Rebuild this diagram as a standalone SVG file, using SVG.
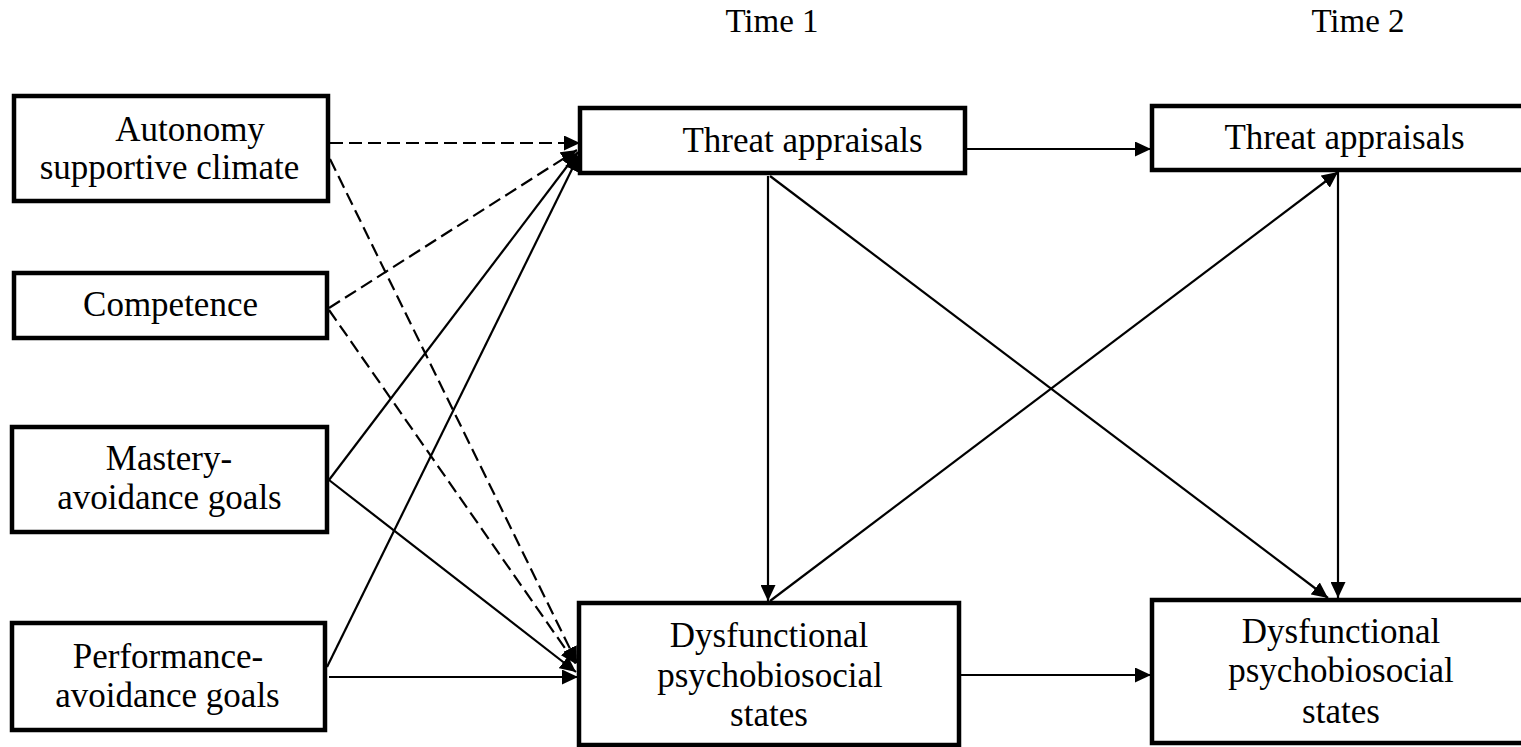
<svg xmlns="http://www.w3.org/2000/svg" width="1521" height="747" viewBox="0 0 1521 747">
<style>
.box{fill:#fff;stroke:#000;stroke-width:4.5}
.t{font-family:"Liberation Serif","Times New Roman",serif;font-size:35px;fill:#000;text-anchor:middle}
.tm{font-family:"Liberation Serif","Times New Roman",serif;font-size:33px;fill:#000;text-anchor:middle}
.c{fill:none;stroke:#000;stroke-width:2.2;marker-end:url(#ah)}
.d{stroke-dasharray:13 6}
</style>
<defs>
<marker id="ah" markerUnits="userSpaceOnUse" markerWidth="16" markerHeight="15" refX="16" refY="7.5" orient="auto">
<path d="M0,0 L16,7.5 L0,15 Z" fill="#000"/>
</marker>
</defs>
<rect width="1521" height="747" fill="#fff"/>
<g id="labels">
<text class="tm" x="772" y="32">Time 1</text>
<text class="tm" x="1358" y="32">Time 2</text>
</g>
<g id="connectors">
<line class="c d" x1="330" y1="143" x2="580" y2="143"/>
<line class="c d" x1="330" y1="159" x2="577" y2="663"/>
<line class="c d" x1="329" y1="308" x2="577" y2="150"/>
<line class="c d" x1="329" y1="310" x2="576" y2="664"/>
<line class="c" x1="329" y1="480" x2="578" y2="152"/>
<line class="c" x1="329" y1="480" x2="576" y2="672"/>
<line class="c" x1="327" y1="667" x2="579" y2="155"/>
<line class="c" x1="329" y1="677" x2="578" y2="677"/>
<line class="c" x1="966" y1="149" x2="1151" y2="149"/>
<line class="c" x1="768" y1="176" x2="768" y2="601"/>
<line class="c" x1="770" y1="176" x2="1328" y2="598"/>
<line class="c" x1="770" y1="601" x2="1338" y2="172"/>
<line class="c" x1="1338" y1="172" x2="1338" y2="598"/>
<line class="c" x1="960" y1="675" x2="1151" y2="675"/>
</g>
<g id="autonomy">
<rect class="box" x="14" y="96" width="314" height="105"/>
<text class="t" x="190" y="141">Autonomy</text>
<text class="t" x="169.5" y="179">supportive climate</text>
</g>
<g id="competence">
<rect class="box" x="14" y="273" width="313" height="65"/>
<text class="t" x="170.5" y="316">Competence</text>
</g>
<g id="mastery">
<rect class="box" x="12" y="427" width="315" height="105"/>
<text class="t" x="169" y="470">Mastery-</text>
<text class="t" x="169.5" y="509">avoidance goals</text>
</g>
<g id="performance">
<rect class="box" x="12" y="623" width="313" height="107"/>
<text class="t" x="168" y="668">Performance-</text>
<text class="t" x="167.5" y="707">avoidance goals</text>
</g>
<g id="threat1">
<rect class="box" x="580" y="108" width="385" height="65"/>
<text class="t" x="802.5" y="152">Threat appraisals</text>
</g>
<g id="threat2">
<rect class="box" x="1152" y="106" width="380" height="64"/>
<text class="t" x="1344.5" y="149">Threat appraisals</text>
</g>
<g id="dys1">
<rect class="box" x="579" y="603" width="380" height="142"/>
<text class="t" x="769" y="647">Dysfunctional</text>
<text class="t" x="770" y="687">psychobiosocial</text>
<text class="t" x="769" y="726">states</text>
</g>
<g id="dys2">
<rect class="box" x="1152" y="600" width="380" height="143"/>
<text class="t" x="1341" y="643">Dysfunctional</text>
<text class="t" x="1341" y="682">psychobiosocial</text>
<text class="t" x="1341" y="723">states</text>
</g>
</svg>
